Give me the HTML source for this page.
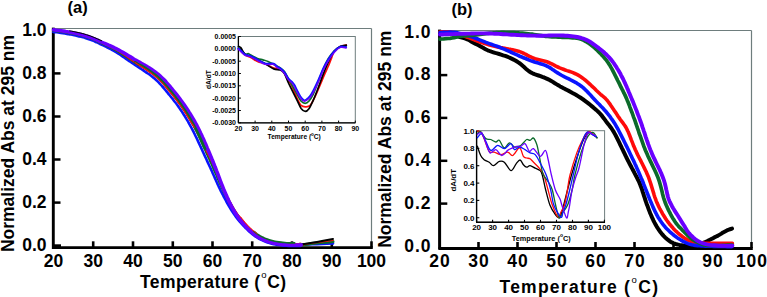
<!DOCTYPE html>
<html><head><meta charset="utf-8"><style>
html,body{margin:0;padding:0;background:#fff;width:767px;height:297px;overflow:hidden}
svg{display:block}
</style></head><body>
<svg width="767" height="297" viewBox="0 0 767 297">
<rect width="767" height="297" fill="#fff"/>
<line x1="53.5" y1="28.5" x2="371.5" y2="28.5" stroke="#6e7d7d" stroke-width="1.2"/>
<line x1="371.5" y1="28.5" x2="371.5" y2="247" stroke="#6e7d7d" stroke-width="1.2"/>
<line x1="53.3" y1="27.6" x2="53.3" y2="249" stroke="#000" stroke-width="2.9"/>
<line x1="52" y1="247.7" x2="372.8" y2="247.7" stroke="#000" stroke-width="2.8"/>
<rect x="54" y="244.3" width="7" height="3" fill="#000"/>
<line x1="93.2" y1="247.5" x2="93.2" y2="241.3" stroke="#000" stroke-width="2.6"/>
<line x1="133.0" y1="247.5" x2="133.0" y2="241.3" stroke="#000" stroke-width="2.6"/>
<line x1="172.8" y1="247.5" x2="172.8" y2="241.3" stroke="#000" stroke-width="2.6"/>
<line x1="212.5" y1="247.5" x2="212.5" y2="241.3" stroke="#000" stroke-width="2.6"/>
<line x1="252.2" y1="247.5" x2="252.2" y2="241.3" stroke="#000" stroke-width="2.6"/>
<line x1="292.0" y1="247.5" x2="292.0" y2="241.3" stroke="#000" stroke-width="2.6"/>
<line x1="331.8" y1="247.5" x2="331.8" y2="241.3" stroke="#000" stroke-width="2.6"/>
<line x1="371.5" y1="247.5" x2="371.5" y2="241.3" stroke="#000" stroke-width="2.6"/>
<line x1="53.5" y1="202.6" x2="60.5" y2="202.6" stroke="#000" stroke-width="2.5"/>
<line x1="53.5" y1="159.5" x2="60.5" y2="159.5" stroke="#000" stroke-width="2.5"/>
<line x1="53.5" y1="116.5" x2="60.5" y2="116.5" stroke="#000" stroke-width="2.5"/>
<line x1="53.5" y1="73.4" x2="60.5" y2="73.4" stroke="#000" stroke-width="2.5"/>
<path d="M53.3,31.9 C53.9,32.0 55.7,32.2 57.0,32.3 C58.3,32.5 59.6,32.7 60.9,32.9 C62.3,33.1 63.6,33.3 65.0,33.5 C66.4,33.7 67.7,34.0 69.1,34.2 C70.5,34.5 71.9,34.7 73.2,35.0 C74.6,35.3 76.0,35.6 77.3,35.9 C78.7,36.2 80.0,36.5 81.3,36.8 C82.6,37.2 84.0,37.5 85.2,37.9 C86.5,38.3 87.8,38.7 89.0,39.2 C90.3,39.6 91.5,40.1 92.7,40.6 C94.0,41.1 95.2,41.7 96.4,42.2 C97.6,42.8 98.8,43.4 100.1,44.0 C101.3,44.5 102.6,45.1 103.8,45.7 C105.0,46.3 106.3,46.9 107.5,47.6 C108.8,48.2 110.0,48.8 111.2,49.4 C112.4,50.1 113.5,50.7 114.7,51.4 C115.8,52.0 116.9,52.7 118.0,53.4 C119.1,54.1 120.1,54.7 121.1,55.4 C122.1,56.1 123.1,56.7 124.1,57.5 C125.1,58.2 126.2,58.9 127.3,59.7 C128.4,60.5 129.5,61.3 130.7,62.0 C131.8,62.8 132.9,63.5 134.0,64.2 C135.1,65.0 136.2,65.7 137.3,66.4 C138.5,67.2 139.7,67.9 140.9,68.7 C142.0,69.5 143.3,70.3 144.4,71.1 C145.6,71.9 146.8,72.7 147.9,73.5 C149.0,74.2 150.1,75.0 151.1,75.8 C152.2,76.6 153.2,77.5 154.2,78.3 C155.2,79.1 156.1,80.0 157.1,80.9 C158.0,81.8 158.9,82.7 159.7,83.6 C160.6,84.5 161.4,85.5 162.3,86.4 C163.1,87.4 164.0,88.4 164.8,89.4 C165.7,90.4 166.5,91.4 167.4,92.4 C168.2,93.5 169.0,94.5 169.9,95.5 C170.7,96.5 171.5,97.6 172.4,98.6 C173.2,99.7 174.0,100.7 174.8,101.8 C175.7,102.9 176.5,104.0 177.3,105.1 C178.1,106.2 178.8,107.3 179.6,108.3 C180.4,109.4 181.1,110.5 181.9,111.6 C182.6,112.7 183.3,113.9 184.0,115.0 C184.8,116.1 185.5,117.3 186.1,118.4 C186.8,119.5 187.5,120.7 188.2,121.8 C188.8,123.0 189.4,124.1 190.1,125.3 C190.7,126.4 191.3,127.6 191.9,128.7 C192.5,129.9 193.1,131.0 193.7,132.2 C194.3,133.4 194.9,134.6 195.5,135.8 C196.1,136.9 196.6,138.1 197.2,139.3 C197.8,140.5 198.3,141.7 198.8,142.9 C199.4,144.1 199.9,145.4 200.5,146.6 C201.0,147.8 201.6,149.0 202.2,150.2 C202.7,151.4 203.3,152.7 203.9,153.9 C204.4,155.1 205.0,156.4 205.6,157.6 C206.1,158.8 206.7,160.1 207.3,161.3 C207.9,162.5 208.4,163.8 209.0,165.0 C209.6,166.2 210.1,167.4 210.7,168.7 C211.3,169.9 211.8,171.1 212.4,172.4 C212.9,173.6 213.5,174.8 214.0,176.0 C214.6,177.3 215.1,178.5 215.7,179.7 C216.2,181.0 216.8,182.2 217.3,183.4 C217.9,184.7 218.5,185.9 219.0,187.2 C219.6,188.4 220.2,189.6 220.8,190.9 C221.4,192.1 222.0,193.3 222.7,194.5 C223.3,195.7 223.9,197.0 224.6,198.2 C225.2,199.4 225.9,200.6 226.5,201.8 C227.2,203.0 227.8,204.2 228.5,205.4 C229.2,206.6 229.9,207.7 230.6,208.9 C231.3,210.0 232.0,211.2 232.8,212.3 C233.6,213.5 234.4,214.6 235.2,215.7 C236.0,216.9 236.9,218.0 237.7,219.1 C238.5,220.1 239.4,221.2 240.2,222.2 C241.1,223.2 242.0,224.2 242.9,225.2 C243.8,226.2 244.8,227.3 245.8,228.2 C246.8,229.2 247.8,230.2 248.9,231.2 C249.9,232.1 251.0,233.0 252.0,233.9 C253.1,234.7 254.2,235.6 255.3,236.3 C256.5,237.1 257.6,237.9 258.8,238.6 C260.0,239.2 261.3,239.9 262.5,240.4 C263.7,241.0 265.0,241.5 266.3,242.0 C267.6,242.5 269.0,242.9 270.3,243.3 C271.6,243.7 273.0,244.0 274.3,244.3 C275.7,244.5 277.1,244.8 278.4,245.0 C279.8,245.2 281.1,245.4 282.4,245.5 C283.8,245.6 285.1,245.7 286.5,245.8 C287.8,245.9 289.2,246.0 290.5,246.0 C291.9,246.0 293.3,246.0 294.7,246.0 C296.0,246.0 297.6,246.0 298.7,246.0 C299.7,245.9 300.8,246.1 301.0,245.9 C301.2,245.7 298.2,245.2 300.0,244.9 C301.8,244.6 308.3,244.5 312.0,244.3 C315.7,244.1 318.5,244.1 322.0,243.9 C325.5,243.8 331.2,243.5 333.0,243.4" fill="none" stroke="#0a14ff" stroke-width="2.6" stroke-linejoin="round" stroke-linecap="round" />
<path d="M53.5,30.4 C54.1,30.5 55.9,30.7 57.2,30.9 C58.5,31.0 59.8,31.2 61.2,31.4 C62.5,31.6 63.9,31.8 65.2,32.0 C66.6,32.3 68.0,32.5 69.4,32.8 C70.8,33.0 72.2,33.3 73.5,33.5 C74.9,33.8 76.3,34.1 77.7,34.4 C79.0,34.7 80.4,35.0 81.7,35.4 C83.0,35.7 84.4,36.1 85.7,36.5 C87.0,36.9 88.3,37.3 89.6,37.8 C90.8,38.2 92.1,38.7 93.3,39.2 C94.5,39.7 95.8,40.3 97.0,40.8 C98.2,41.4 99.5,42.0 100.7,42.5 C102.0,43.1 103.2,43.7 104.5,44.3 C105.7,44.8 107.0,45.4 108.3,46.0 C109.5,46.6 110.8,47.2 112.0,47.9 C113.2,48.5 114.4,49.1 115.6,49.8 C116.7,50.4 117.9,51.1 119.0,51.7 C120.1,52.4 121.2,53.0 122.2,53.7 C123.2,54.4 124.2,55.0 125.3,55.7 C126.3,56.4 127.4,57.1 128.5,57.9 C129.6,58.6 130.8,59.4 131.9,60.1 C133.0,60.9 134.1,61.6 135.2,62.3 C136.3,63.0 137.4,63.7 138.6,64.4 C139.8,65.0 141.2,65.5 142.5,66.2 C143.7,66.8 144.9,67.7 146.1,68.5 C147.3,69.3 148.5,70.1 149.7,70.9 C150.9,71.6 152.0,72.4 153.1,73.3 C154.2,74.1 155.2,74.9 156.3,75.8 C157.3,76.7 158.4,77.6 159.3,78.5 C160.3,79.5 161.2,80.4 162.1,81.4 C163.0,82.3 163.9,83.3 164.8,84.3 C165.6,85.2 166.5,86.3 167.4,87.3 C168.2,88.3 169.1,89.3 169.9,90.3 C170.8,91.4 171.6,92.4 172.4,93.4 C173.3,94.5 174.1,95.5 175.0,96.6 C175.8,97.6 176.6,98.7 177.5,99.8 C178.3,100.9 179.1,102.0 179.9,103.1 C180.7,104.2 181.5,105.3 182.3,106.5 C183.1,107.6 183.9,108.7 184.6,109.8 C185.4,110.9 186.1,112.1 186.8,113.2 C187.6,114.4 188.3,115.5 189.0,116.7 C189.7,117.9 190.3,119.0 191.0,120.2 C191.7,121.3 192.3,122.5 193.0,123.7 C193.6,124.8 194.2,126.0 194.9,127.2 C195.5,128.4 196.1,129.5 196.7,130.7 C197.3,131.9 197.9,133.1 198.5,134.3 C199.0,135.5 199.6,136.8 200.2,138.0 C200.7,139.2 201.3,140.4 201.8,141.6 C202.4,142.8 202.9,144.0 203.4,145.3 C204.0,146.5 204.5,147.7 205.1,148.9 C205.6,150.1 206.2,151.4 206.7,152.6 C207.3,153.8 207.8,155.1 208.4,156.3 C209.0,157.5 209.5,158.8 210.1,160.0 C210.6,161.3 211.2,162.5 211.8,163.7 C212.3,165.0 212.9,166.2 213.4,167.5 C214.0,168.7 214.5,170.0 215.0,171.2 C215.6,172.4 216.1,173.7 216.7,174.9 C217.2,176.2 217.7,177.4 218.2,178.6 C218.8,179.9 219.3,181.1 219.8,182.4 C220.4,183.6 220.9,184.8 221.5,186.1 C222.0,187.3 222.6,188.5 223.2,189.7 C223.7,191.0 224.3,192.2 224.9,193.4 C225.5,194.6 226.1,195.9 226.7,197.1 C227.4,198.3 228.0,199.5 228.6,200.7 C229.2,201.9 229.9,203.1 230.5,204.3 C231.2,205.4 231.8,206.6 232.5,207.7 C233.2,208.9 233.9,210.0 234.6,211.2 C235.3,212.3 236.1,213.5 236.9,214.6 C237.7,215.7 238.5,216.8 239.3,217.9 C240.1,219.0 240.9,220.0 241.7,221.0 C242.5,222.0 243.4,223.0 244.2,224.0 C245.1,225.1 246.1,226.1 247.0,227.1 C248.0,228.1 249.0,229.0 250.0,230.0 C251.0,230.9 252.0,231.8 253.0,232.7 C254.1,233.5 255.1,234.3 256.2,235.1 C257.3,235.9 258.4,236.6 259.6,237.3 C260.7,237.9 261.9,238.5 263.1,239.1 C264.3,239.6 265.6,240.1 266.8,240.6 C268.1,241.1 269.4,241.5 270.7,241.8 C272.0,242.2 273.3,242.5 274.7,242.8 C276.0,243.1 277.3,243.3 278.6,243.5 C280.0,243.7 281.3,243.9 282.6,244.0 C283.9,244.1 285.2,244.2 286.6,244.3 C287.9,244.4 289.2,244.5 290.6,244.5 C291.9,244.5 293.3,244.5 294.7,244.5 C296.0,244.5 297.6,244.5 298.6,244.5 C299.7,244.4 300.5,244.3 301.0,244.4 C301.5,244.5 299.7,245.0 301.5,244.9 C303.3,244.8 308.6,244.0 312.0,243.6 C315.4,243.2 318.5,242.9 322.0,242.6 C325.5,242.3 331.2,241.8 333.0,241.6" fill="none" stroke="#0b6a2a" stroke-width="3.0" stroke-linejoin="round" stroke-linecap="round" />
<path d="M53.5,30.4 C54.1,30.5 55.9,30.7 57.2,30.9 C58.5,31.0 59.8,31.2 61.2,31.4 C62.5,31.6 63.9,31.8 65.2,32.0 C66.6,32.3 68.0,32.5 69.4,32.8 C70.8,33.0 72.2,33.3 73.5,33.5 C74.9,33.8 76.3,34.1 77.7,34.4 C79.0,34.7 80.4,35.0 81.7,35.4 C83.0,35.7 84.4,36.1 85.7,36.5 C87.0,36.9 88.3,37.3 89.6,37.8 C90.8,38.2 92.1,38.7 93.3,39.2 C94.5,39.7 95.8,40.3 97.0,40.8 C98.2,41.4 99.5,42.0 100.7,42.5 C102.0,43.1 103.2,43.7 104.5,44.3 C105.7,44.8 107.0,45.4 108.3,46.0 C109.5,46.6 110.8,47.2 112.0,47.9 C113.2,48.5 114.4,49.1 115.6,49.8 C116.7,50.4 117.9,51.1 119.0,51.7 C120.1,52.4 121.2,53.0 122.2,53.7 C123.2,54.4 124.2,55.0 125.3,55.7 C126.3,56.4 127.3,57.2 128.4,58.0 C129.5,58.7 130.7,59.6 131.8,60.3 C132.9,61.1 133.9,61.8 135.0,62.5 C136.1,63.3 137.2,64.0 138.4,64.7 C139.5,65.5 140.7,66.2 141.9,67.0 C143.1,67.8 144.4,68.5 145.6,69.3 C146.8,70.1 148.0,70.9 149.1,71.7 C150.3,72.5 151.4,73.2 152.5,74.1 C153.6,74.9 154.6,75.7 155.6,76.6 C156.7,77.4 157.7,78.4 158.6,79.3 C159.6,80.2 160.5,81.1 161.4,82.0 C162.3,83.0 163.2,83.9 164.0,84.9 C164.9,85.9 165.7,86.9 166.6,87.9 C167.4,88.9 168.3,90.0 169.1,91.0 C170.0,92.0 170.8,93.0 171.7,94.1 C172.5,95.1 173.3,96.1 174.2,97.2 C175.0,98.3 175.8,99.3 176.7,100.4 C177.5,101.5 178.3,102.6 179.1,103.7 C179.9,104.8 180.7,105.9 181.5,107.0 C182.3,108.1 183.0,109.2 183.8,110.4 C184.5,111.5 185.3,112.6 186.0,113.8 C186.7,114.9 187.4,116.1 188.1,117.2 C188.8,118.4 189.5,119.5 190.2,120.7 C190.9,121.8 191.6,122.9 192.3,124.1 C193.0,125.2 193.6,126.3 194.3,127.5 C194.9,128.6 195.6,129.8 196.2,131.0 C196.9,132.1 197.5,133.3 198.1,134.5 C198.8,135.7 199.4,136.9 200.0,138.1 C200.6,139.3 201.1,140.5 201.7,141.7 C202.3,142.8 202.9,144.0 203.5,145.2 C204.1,146.4 204.6,147.6 205.2,148.8 C205.8,150.0 206.4,151.3 207.0,152.5 C207.6,153.7 208.2,154.9 208.8,156.1 C209.4,157.3 210.0,158.6 210.6,159.8 C211.2,161.0 211.8,162.2 212.4,163.5 C213.0,164.7 213.6,165.9 214.2,167.1 C214.8,168.4 215.4,169.6 215.9,170.8 C216.5,172.0 217.0,173.3 217.6,174.5 C218.1,175.8 218.6,177.0 219.2,178.2 C219.7,179.5 220.2,180.7 220.7,182.0 C221.3,183.2 221.8,184.4 222.4,185.7 C222.9,186.9 223.5,188.1 224.1,189.3 C224.6,190.5 225.2,191.8 225.8,193.0 C226.4,194.2 227.0,195.4 227.6,196.6 C228.3,197.8 228.9,199.1 229.5,200.3 C230.1,201.4 230.8,202.6 231.4,203.8 C232.0,204.9 232.7,206.1 233.4,207.2 C234.0,208.4 234.7,209.5 235.5,210.6 C236.2,211.8 236.9,212.9 237.7,214.0 C238.5,215.1 239.3,216.2 240.1,217.3 C240.9,218.4 241.6,219.4 242.5,220.4 C243.3,221.4 244.1,222.4 245.0,223.4 C245.9,224.4 246.8,225.4 247.7,226.4 C248.7,227.3 249.7,228.3 250.7,229.3 C251.7,230.2 252.6,231.1 253.7,231.9 C254.7,232.7 255.7,233.5 256.8,234.3 C257.8,235.0 259.0,235.7 260.1,236.4 C261.2,237.0 262.4,237.6 263.5,238.2 C264.7,238.7 265.9,239.2 267.2,239.7 C268.4,240.1 269.7,240.5 271.0,240.9 C272.2,241.2 273.6,241.5 274.9,241.8 C276.2,242.1 277.5,242.3 278.8,242.5 C280.1,242.7 281.4,242.9 282.7,243.0 C284.0,243.1 285.3,243.2 286.6,243.3 C287.9,243.4 289.3,243.5 290.6,243.5 C291.9,243.5 293.3,243.5 294.7,243.5 C296.0,243.5 297.6,243.5 298.6,243.5 C299.7,243.4 300.3,243.2 301.0,243.4 C301.6,243.6 300.7,244.9 302.5,244.9 C304.3,244.9 308.8,243.7 312.0,243.2 C315.2,242.7 318.5,242.3 322.0,241.8 C325.5,241.3 331.2,240.6 333.0,240.4" fill="none" stroke="#ff0a0a" stroke-width="1.2" stroke-linejoin="round" stroke-linecap="round" />
<path d="M301.0,244.6 C302.8,244.3 308.5,243.4 312.0,242.8 C315.5,242.2 318.5,241.6 322.0,241.0 C325.5,240.4 331.2,239.3 333.0,239.0" fill="none" stroke="#000000" stroke-width="2.0" stroke-linejoin="round" stroke-linecap="round" />
<path d="M53.6,29.8 C54.2,29.9 56.0,30.1 57.3,30.3 C58.6,30.4 59.9,30.6 61.2,30.8 C62.6,31.0 64.0,31.2 65.3,31.4 C66.7,31.7 68.1,31.9 69.5,32.2 C70.9,32.4 72.3,32.7 73.7,33.0 C75.0,33.2 76.4,33.5 77.8,33.8 C79.2,34.1 80.5,34.5 81.9,34.8 C83.2,35.2 84.5,35.5 85.9,35.9 C87.2,36.3 88.5,36.8 89.8,37.2 C91.0,37.7 92.3,38.2 93.5,38.7 C94.8,39.2 96.0,39.7 97.3,40.2 C98.5,40.8 99.8,41.3 101.0,41.9 C102.3,42.4 103.6,42.9 104.8,43.5 C106.1,44.0 107.4,44.6 108.7,45.2 C110.0,45.7 111.2,46.3 112.5,46.9 C113.7,47.5 115.0,48.1 116.2,48.7 C117.4,49.3 118.5,49.9 119.7,50.5 C120.8,51.1 121.9,51.8 123.0,52.4 C124.1,53.0 125.1,53.6 126.2,54.3 C127.3,55.0 128.4,55.7 129.5,56.3 C130.7,57.0 131.8,57.8 133.0,58.4 C134.1,59.1 135.2,59.8 136.4,60.4 C137.5,61.1 138.6,61.7 139.8,62.4 C141.0,63.1 142.3,63.8 143.5,64.5 C144.7,65.2 146.0,66.0 147.3,66.7 C148.5,67.5 149.8,68.2 151.0,69.0 C152.2,69.8 153.3,70.6 154.5,71.4 C155.6,72.2 156.8,73.1 157.8,74.0 C158.9,74.9 160.0,75.8 161.0,76.8 C162.0,77.7 163.0,78.7 163.9,79.6 C164.9,80.6 165.8,81.6 166.6,82.6 C167.5,83.6 168.4,84.6 169.3,85.7 C170.1,86.7 171.0,87.7 171.8,88.7 C172.7,89.8 173.5,90.8 174.4,91.9 C175.2,92.9 176.1,94.0 176.9,95.0 C177.8,96.1 178.6,97.2 179.5,98.3 C180.3,99.4 181.1,100.5 181.9,101.7 C182.8,102.8 183.6,103.9 184.4,105.0 C185.2,106.1 185.9,107.3 186.7,108.4 C187.5,109.6 188.2,110.7 188.9,111.9 C189.7,113.1 190.4,114.2 191.1,115.4 C191.8,116.6 192.5,117.8 193.2,118.9 C193.9,120.1 194.5,121.3 195.2,122.5 C195.8,123.6 196.4,124.8 197.1,126.0 C197.7,127.2 198.3,128.4 198.9,129.6 C199.5,130.8 200.1,132.0 200.7,133.3 C201.3,134.5 201.9,135.7 202.4,136.9 C203.0,138.2 203.5,139.4 204.1,140.6 C204.6,141.8 205.1,143.0 205.7,144.3 C206.2,145.5 206.7,146.7 207.2,147.9 C207.8,149.2 208.3,150.4 208.8,151.6 C209.4,152.9 209.9,154.1 210.4,155.4 C210.9,156.7 211.5,157.9 212.0,159.2 C212.5,160.4 213.0,161.7 213.5,163.0 C214.0,164.2 214.5,165.5 215.0,166.8 C215.5,168.0 216.0,169.3 216.5,170.6 C217.0,171.8 217.5,173.1 218.0,174.4 C218.4,175.6 218.9,176.9 219.4,178.1 C219.9,179.4 220.3,180.7 220.8,181.9 C221.3,183.2 221.8,184.4 222.3,185.7 C222.8,187.0 223.3,188.2 223.8,189.5 C224.3,190.7 224.8,191.9 225.4,193.2 C225.9,194.4 226.5,195.7 227.0,196.9 C227.6,198.2 228.2,199.4 228.7,200.7 C229.3,201.9 229.9,203.1 230.5,204.3 C231.1,205.5 231.7,206.7 232.3,207.8 C233.0,209.0 233.6,210.2 234.3,211.3 C235.0,212.5 235.8,213.7 236.5,214.8 C237.3,216.0 238.1,217.1 238.9,218.2 C239.7,219.3 240.5,220.3 241.3,221.3 C242.1,222.4 243.0,223.4 243.9,224.4 C244.8,225.4 245.7,226.4 246.7,227.4 C247.6,228.4 248.6,229.4 249.6,230.3 C250.6,231.3 251.7,232.2 252.7,233.1 C253.7,233.9 254.8,234.7 255.9,235.5 C257.0,236.3 258.2,237.0 259.3,237.7 C260.5,238.4 261.7,239.0 262.9,239.5 C264.1,240.1 265.4,240.6 266.7,241.1 C267.9,241.5 269.2,241.9 270.6,242.3 C271.9,242.7 273.2,243.0 274.5,243.3 C275.9,243.6 277.2,243.8 278.6,244.0 C279.9,244.2 281.2,244.4 282.5,244.5 C283.9,244.6 285.2,244.7 286.5,244.8 C287.9,244.9 289.2,245.0 290.6,245.0 C291.9,245.0 293.3,245.0 294.7,245.0 C296.0,245.0 297.6,245.0 298.7,245.0 C299.7,244.9 300.6,244.9 301.0,244.9 C301.4,244.9 301.0,244.9 301.0,244.9" fill="none" stroke="#6a00ff" stroke-width="3.6" stroke-linejoin="round" stroke-linecap="round" />
<path d="M135.2,62.3 C135.8,62.6 137.4,63.7 138.6,64.4 C139.8,65.0 141.2,65.5 142.5,66.2 C143.7,66.8 144.9,67.7 146.1,68.5 C147.3,69.3 148.5,70.1 149.7,70.9 C150.9,71.6 152.0,72.4 153.1,73.3 C154.2,74.1 155.2,74.9 156.3,75.8 C157.3,76.7 158.4,77.6 159.3,78.5 C160.3,79.5 161.2,80.4 162.1,81.4 C163.0,82.3 163.9,83.3 164.8,84.3 C165.6,85.2 166.5,86.3 167.4,87.3 C168.2,88.3 169.1,89.3 169.9,90.3 C170.8,91.4 171.6,92.4 172.4,93.4 C173.3,94.5 174.1,95.5 175.0,96.6 C175.8,97.6 176.6,98.7 177.5,99.8 C178.3,100.9 179.1,102.0 179.9,103.1 C180.7,104.2 181.5,105.3 182.3,106.5 C183.1,107.6 183.9,108.7 184.6,109.8 C185.4,110.9 186.1,112.1 186.8,113.2 C187.6,114.4 188.3,115.5 189.0,116.7 C189.7,117.9 190.3,119.0 191.0,120.2 C191.7,121.3 192.3,122.5 193.0,123.7 C193.6,124.8 194.2,126.0 194.9,127.2 C195.5,128.4 196.1,129.5 196.7,130.7 C197.3,131.9 197.9,133.1 198.5,134.3 C199.0,135.5 199.6,136.8 200.2,138.0 C200.7,139.2 201.3,140.4 201.8,141.6 C202.4,142.8 202.9,144.0 203.4,145.3 C204.0,146.5 204.8,148.3 205.1,148.9" fill="none" stroke="#0b6a2a" stroke-width="2.6" stroke-linejoin="round" stroke-linecap="round" />
<path d="M135.0,62.5 C135.6,62.9 137.2,64.0 138.4,64.7 C139.5,65.5 140.7,66.2 141.9,67.0 C143.1,67.8 144.4,68.5 145.6,69.3 C146.8,70.1 148.0,70.9 149.1,71.7 C150.3,72.5 151.4,73.2 152.5,74.1 C153.6,74.9 154.6,75.7 155.6,76.6 C156.7,77.4 157.7,78.4 158.6,79.3 C159.6,80.2 160.5,81.1 161.4,82.0 C162.3,83.0 163.2,83.9 164.0,84.9 C164.9,85.9 165.7,86.9 166.6,87.9 C167.4,88.9 168.3,90.0 169.1,91.0 C170.0,92.0 170.8,93.0 171.7,94.1 C172.5,95.1 173.3,96.1 174.2,97.2 C175.0,98.3 175.8,99.3 176.7,100.4 C177.5,101.5 178.3,102.6 179.1,103.7 C179.9,104.8 180.7,105.9 181.5,107.0 C182.3,108.1 183.0,109.2 183.8,110.4 C184.5,111.5 185.3,112.6 186.0,113.8 C186.7,114.9 187.4,116.1 188.1,117.2 C188.8,118.4 189.5,119.5 190.2,120.7 C190.9,121.8 191.6,122.9 192.3,124.1 C193.0,125.2 193.9,126.9 194.3,127.5" fill="none" stroke="#ff0a0a" stroke-width="1.1" stroke-linejoin="round" stroke-linecap="round" />
<path d="M69.7,30.8 C70.4,30.9 72.5,31.3 73.9,31.6 C75.3,31.9 76.7,32.2 78.1,32.5 C79.5,32.8 80.8,33.1 82.2,33.4 C83.6,33.8 84.9,34.2 86.3,34.6 C87.6,35.0 88.9,35.4 90.2,35.9 C91.5,36.4 92.8,36.9 94.1,37.4 C95.3,37.9 96.6,38.4 97.8,39.0 C99.1,39.6 100.9,40.4 101.6,40.7" fill="none" stroke="#000000" stroke-width="1.0" stroke-linejoin="round" stroke-linecap="round" />
<path d="M254.0,231.4 C254.6,231.8 256.1,233.0 257.1,233.8 C258.2,234.5 259.3,235.2 260.4,235.9 C261.5,236.5 262.6,237.1 263.8,237.6 C265.0,238.2 266.2,238.7 267.4,239.1 C268.6,239.5 269.9,239.9 271.1,240.3 C272.4,240.7 273.7,241.0 275.0,241.2 C276.3,241.5 277.6,241.7 278.9,241.9 C280.2,242.1 281.5,242.3 282.8,242.4 C284.1,242.5 285.4,242.6 286.7,242.7 C288.0,242.8 289.3,242.9 290.6,242.9 C292.0,242.9 294.0,242.9 294.7,242.9" fill="none" stroke="#0b6a2a" stroke-width="1.6" stroke-linejoin="round" stroke-linecap="round" />
<path d="M240.7,216.8 C241.1,217.3 242.3,218.9 243.1,219.9 C243.9,220.9 244.7,221.9 245.6,222.9 C246.5,223.8 247.4,224.8 248.3,225.8 C249.3,226.8 250.2,227.8 251.2,228.7 C252.2,229.6 253.2,230.4 254.2,231.3 C255.2,232.1 256.7,233.2 257.2,233.6" fill="none" stroke="#ff0a0a" stroke-width="0.9" stroke-linejoin="round" stroke-linecap="round" />
<g font-family="Liberation Sans" font-weight="bold" font-size="17.5" fill="#000">
<text x="53.5" y="267" text-anchor="middle">20</text>
<text x="93.2" y="267" text-anchor="middle">30</text>
<text x="133.0" y="267" text-anchor="middle">40</text>
<text x="172.8" y="267" text-anchor="middle">50</text>
<text x="212.5" y="267" text-anchor="middle">60</text>
<text x="252.2" y="267" text-anchor="middle">70</text>
<text x="292.0" y="267" text-anchor="middle">80</text>
<text x="331.8" y="267" text-anchor="middle">90</text>
<text x="371.5" y="267" text-anchor="middle">100</text>
<text x="46.5" y="251.0" text-anchor="end">0.0</text>
<text x="46.5" y="207.9" text-anchor="end">0.2</text>
<text x="46.5" y="164.8" text-anchor="end">0.4</text>
<text x="46.5" y="121.8" text-anchor="end">0.6</text>
<text x="46.5" y="78.7" text-anchor="end">0.8</text>
<text x="46.5" y="35.6" text-anchor="end">1.0</text>
<text x="140" y="288.3" letter-spacing="0.4">Temperature (<tspan font-size="9.5" font-weight="normal" dy="-10" dx="0.6">o</tspan><tspan dy="10" dx="0.4">C)</tspan></text>
<text transform="translate(13.8,143.5) rotate(-90)" text-anchor="middle" font-size="17.5">Normalized Abs at 295 nm</text>
<text x="67.5" y="12.6" font-size="16.5">(a)</text>
</g>
<rect x="238.4" y="36.5" width="116.9" height="86.3" fill="none" stroke="#6e7d7d" stroke-width="1"/>
<line x1="238.4" y1="36.5" x2="238.4" y2="122.8" stroke="#000" stroke-width="1.3"/>
<line x1="238.4" y1="122.8" x2="355.3" y2="122.8" stroke="#000" stroke-width="1.3"/>
<g font-family="Liberation Sans" font-weight="bold" font-size="7" fill="#000">
<line x1="238.4" y1="36.5" x2="240.9" y2="36.5" stroke="#000" stroke-width="1"/>
<text x="236" y="39.0" text-anchor="end">0.0005</text>
<line x1="238.4" y1="48.8" x2="240.9" y2="48.8" stroke="#000" stroke-width="1"/>
<text x="236" y="51.3" text-anchor="end">0.0000</text>
<line x1="238.4" y1="61.2" x2="240.9" y2="61.2" stroke="#000" stroke-width="1"/>
<text x="236" y="63.7" text-anchor="end">-0.0005</text>
<line x1="238.4" y1="73.5" x2="240.9" y2="73.5" stroke="#000" stroke-width="1"/>
<text x="236" y="76.0" text-anchor="end">-0.0010</text>
<line x1="238.4" y1="85.8" x2="240.9" y2="85.8" stroke="#000" stroke-width="1"/>
<text x="236" y="88.3" text-anchor="end">-0.0015</text>
<line x1="238.4" y1="98.1" x2="240.9" y2="98.1" stroke="#000" stroke-width="1"/>
<text x="236" y="100.6" text-anchor="end">-0.0020</text>
<line x1="238.4" y1="110.5" x2="240.9" y2="110.5" stroke="#000" stroke-width="1"/>
<text x="236" y="113.0" text-anchor="end">-0.0025</text>
<line x1="238.4" y1="122.8" x2="240.9" y2="122.8" stroke="#000" stroke-width="1"/>
<text x="236" y="125.3" text-anchor="end">-0.0030</text>
<line x1="238.4" y1="122.8" x2="238.4" y2="120.6" stroke="#000" stroke-width="1"/>
<text x="238.4" y="130.8" text-anchor="middle">20</text>
<line x1="255.1" y1="122.8" x2="255.1" y2="120.6" stroke="#000" stroke-width="1"/>
<text x="255.1" y="130.8" text-anchor="middle">30</text>
<line x1="271.8" y1="122.8" x2="271.8" y2="120.6" stroke="#000" stroke-width="1"/>
<text x="271.8" y="130.8" text-anchor="middle">40</text>
<line x1="288.5" y1="122.8" x2="288.5" y2="120.6" stroke="#000" stroke-width="1"/>
<text x="288.5" y="130.8" text-anchor="middle">50</text>
<line x1="305.2" y1="122.8" x2="305.2" y2="120.6" stroke="#000" stroke-width="1"/>
<text x="305.2" y="130.8" text-anchor="middle">60</text>
<line x1="321.9" y1="122.8" x2="321.9" y2="120.6" stroke="#000" stroke-width="1"/>
<text x="321.9" y="130.8" text-anchor="middle">70</text>
<line x1="338.6" y1="122.8" x2="338.6" y2="120.6" stroke="#000" stroke-width="1"/>
<text x="338.6" y="130.8" text-anchor="middle">80</text>
<line x1="355.3" y1="122.8" x2="355.3" y2="120.6" stroke="#000" stroke-width="1"/>
<text x="355.3" y="130.8" text-anchor="middle">90</text>
<text x="294.2" y="138.6" text-anchor="middle" font-size="6.6">Temperature (<tspan font-size="4.5" dy="-3">o</tspan><tspan dy="3">C)</tspan></text>
<text transform="translate(210.6,79.6) rotate(-90)" text-anchor="middle" font-size="6.6">dA/dT</text>
</g>
<path d="M238.5,48.5 C239.0,48.9 240.2,49.9 241.4,51.0 C242.6,52.1 243.8,53.9 245.4,55.0 C247.0,56.1 248.8,56.4 250.8,57.5 C252.8,58.6 255.0,60.4 257.5,61.5 C260.0,62.6 262.9,62.9 265.6,64.0 C268.3,65.1 271.2,67.2 273.7,68.0 C276.2,68.8 278.6,68.2 280.4,69.0 C282.2,69.8 283.0,71.1 284.4,73.0 C285.8,74.9 287.2,78.2 288.5,80.5 C289.8,82.8 290.6,83.5 292.0,86.5 C293.4,89.5 295.6,95.1 297.1,98.3 C298.6,101.5 299.8,104.0 301.1,105.4 C302.5,106.8 303.7,106.8 305.2,106.8 C306.7,106.8 308.5,107.2 310.2,105.4 C311.9,103.7 313.3,100.2 315.2,96.3 C317.1,92.4 319.7,86.0 321.3,82.2 C322.9,78.4 323.8,76.2 325.0,73.5 C326.2,70.8 327.4,68.3 328.4,66.0 C329.4,63.7 330.0,61.9 331.0,59.5 C332.0,57.1 332.6,53.7 334.2,51.5 C335.8,49.3 338.3,47.6 340.3,46.5 C342.3,45.4 345.3,45.3 346.3,45.1" fill="none" stroke="#ff0a0a" stroke-width="1.7" stroke-linejoin="round" stroke-linecap="round" />
<path d="M238.5,48.0 C239.0,48.4 240.2,49.4 241.4,50.5 C242.6,51.6 244.3,54.0 245.4,54.5 C246.5,55.0 247.2,53.4 248.1,53.5 C249.0,53.6 249.2,54.2 250.8,55.0 C252.4,55.8 255.5,57.7 257.5,58.5 C259.5,59.3 261.1,59.4 262.9,59.9 C264.6,60.4 266.2,60.7 268.0,61.5 C269.8,62.3 271.6,63.4 273.7,64.5 C275.8,65.6 278.6,66.8 280.4,68.0 C282.2,69.2 283.0,69.7 284.4,71.5 C285.8,73.3 287.2,76.8 288.5,79.0 C289.8,81.2 290.6,82.5 292.0,85.0 C293.4,87.5 295.6,91.6 297.1,94.3 C298.6,97.0 299.6,99.5 301.0,101.0 C302.4,102.5 303.9,103.3 305.2,103.3 C306.5,103.3 307.7,102.5 309.0,101.0 C310.3,99.5 311.8,97.1 313.2,94.3 C314.6,91.5 315.6,88.2 317.3,84.0 C319.0,79.8 321.5,73.2 323.3,69.0 C325.1,64.8 326.6,61.5 328.4,58.5 C330.2,55.5 332.2,53.1 334.2,51.1 C336.2,49.1 338.3,47.6 340.3,46.8 C342.3,45.9 345.3,46.1 346.3,46.0" fill="none" stroke="#0b6a2a" stroke-width="1.7" stroke-linejoin="round" stroke-linecap="round" />
<path d="M238.5,46.3 C238.9,46.5 240.1,46.7 240.8,47.6 C241.6,48.5 242.2,50.4 243.0,51.5 C243.8,52.6 244.1,53.7 245.4,54.5 C246.7,55.3 248.8,55.6 250.8,56.5 C252.8,57.4 255.0,58.8 257.5,60.0 C260.0,61.2 262.9,62.5 265.6,64.0 C268.3,65.5 271.2,67.9 273.7,68.9 C276.2,69.9 278.6,69.2 280.4,70.0 C282.2,70.8 283.1,71.5 284.4,73.5 C285.7,75.5 286.9,79.5 288.0,82.0 C289.1,84.5 289.5,85.2 291.0,88.2 C292.5,91.2 295.4,96.9 297.1,100.3 C298.8,103.7 299.8,106.6 301.1,108.4 C302.5,110.2 303.9,111.4 305.2,111.4 C306.5,111.4 307.9,110.2 309.2,108.4 C310.5,106.6 311.8,103.3 313.2,100.3 C314.6,97.3 315.6,94.6 317.3,90.2 C319.0,85.8 321.5,78.8 323.3,74.1 C325.1,69.4 327.1,64.9 328.4,62.0 C329.7,59.1 330.0,58.3 331.0,56.5 C332.0,54.7 332.6,53.0 334.2,51.3 C335.8,49.6 338.3,47.5 340.3,46.5 C342.3,45.5 345.3,45.3 346.3,45.1" fill="none" stroke="#000000" stroke-width="1.7" stroke-linejoin="round" stroke-linecap="round" />
<path d="M238.5,48.3 C239.0,48.8 240.2,50.0 241.4,51.0 C242.6,52.0 243.8,53.7 245.4,54.5 C247.0,55.3 248.8,55.2 250.8,56.0 C252.8,56.8 255.0,58.2 257.5,59.5 C260.0,60.8 262.9,62.8 265.6,63.5 C268.3,64.2 271.8,63.0 273.7,63.5 C275.6,64.0 275.9,65.7 277.0,66.5 C278.1,67.3 279.2,67.4 280.4,68.3 C281.6,69.2 283.0,70.3 284.4,72.0 C285.8,73.7 287.2,76.9 288.5,78.5 C289.8,80.1 291.1,80.7 292.1,81.8 C293.1,82.9 293.7,83.6 294.5,85.0 C295.3,86.4 296.1,88.3 297.1,90.2 C298.1,92.1 299.3,94.8 300.5,96.5 C301.7,98.2 303.0,100.0 304.2,100.3 C305.4,100.6 306.3,99.5 307.5,98.5 C308.7,97.5 309.6,97.0 311.2,94.3 C312.8,91.6 315.3,86.6 317.3,82.2 C319.3,77.8 321.5,72.0 323.3,68.1 C325.1,64.2 326.6,61.8 328.4,59.0 C330.2,56.2 332.2,53.2 334.2,51.1 C336.2,49.0 338.3,47.2 340.3,46.5 C342.3,45.8 345.3,47.0 346.3,47.1" fill="none" stroke="#0a14ff" stroke-width="1.7" stroke-linejoin="round" stroke-linecap="round" />
<path d="M237.9,49.0 C238.4,49.4 239.6,50.6 240.8,51.7 C242.0,52.7 243.4,54.4 245.0,55.3 C246.6,56.2 248.4,56.0 250.5,56.8 C252.5,57.7 254.6,59.0 257.1,60.3 C259.6,61.6 262.7,63.7 265.4,64.4 C268.1,65.1 271.6,63.9 273.5,64.4 C275.3,64.8 275.4,66.5 276.5,67.2 C277.5,68.0 278.7,68.1 279.9,69.0 C281.1,69.9 282.4,70.9 283.7,72.6 C285.0,74.2 286.5,77.4 287.8,79.1 C289.1,80.7 290.4,81.3 291.4,82.4 C292.4,83.5 292.9,84.1 293.7,85.5 C294.5,86.8 295.3,88.7 296.3,90.6 C297.3,92.5 298.5,95.3 299.8,97.0 C301.0,98.8 302.6,100.8 304.0,101.2 C305.3,101.5 306.7,100.3 308.1,99.2 C309.4,98.1 310.3,97.5 312.0,94.8 C313.6,92.0 316.1,87.0 318.1,82.6 C320.1,78.2 322.3,72.3 324.1,68.5 C326.0,64.6 327.4,62.3 329.2,59.5 C330.9,56.7 332.9,53.7 334.9,51.7 C336.8,49.7 338.7,48.0 340.6,47.4 C342.5,46.7 345.3,47.9 346.2,48.0" fill="none" stroke="#6a00ff" stroke-width="1.4" stroke-linejoin="round" stroke-linecap="round" />
<line x1="439.5" y1="30.5" x2="751.5" y2="30.5" stroke="#6e7d7d" stroke-width="1.2"/>
<line x1="751.5" y1="30.5" x2="751.5" y2="247" stroke="#6e7d7d" stroke-width="1.2"/>
<line x1="439.6" y1="29.6" x2="439.6" y2="249.4" stroke="#000" stroke-width="3"/>
<line x1="438.5" y1="248.5" x2="752.8" y2="248.5" stroke="#000" stroke-width="2.8"/>
<line x1="478.5" y1="248" x2="478.5" y2="242" stroke="#000" stroke-width="2.6"/>
<line x1="517.5" y1="248" x2="517.5" y2="242" stroke="#000" stroke-width="2.6"/>
<line x1="556.5" y1="248" x2="556.5" y2="242" stroke="#000" stroke-width="2.6"/>
<line x1="595.5" y1="248" x2="595.5" y2="242" stroke="#000" stroke-width="2.6"/>
<line x1="634.5" y1="248" x2="634.5" y2="242" stroke="#000" stroke-width="2.6"/>
<line x1="673.5" y1="248" x2="673.5" y2="242" stroke="#000" stroke-width="2.6"/>
<line x1="712.5" y1="248" x2="712.5" y2="242" stroke="#000" stroke-width="2.6"/>
<line x1="751.5" y1="248" x2="751.5" y2="242" stroke="#000" stroke-width="2.6"/>
<line x1="439.8" y1="203.6" x2="447.3" y2="203.6" stroke="#000" stroke-width="2.5"/>
<line x1="439.8" y1="160.8" x2="447.3" y2="160.8" stroke="#000" stroke-width="2.5"/>
<line x1="439.8" y1="117.9" x2="447.3" y2="117.9" stroke="#000" stroke-width="2.5"/>
<line x1="439.8" y1="75.1" x2="447.3" y2="75.1" stroke="#000" stroke-width="2.5"/>
<path d="M440.0,33.0 L441.7,33.1 L443.6,33.2 L445.8,33.4 L448.0,33.7 L450.1,34.0 L452.2,34.4 L454.2,35.0 L456.1,35.6 L458.1,36.3 L460.0,37.0 L462.0,37.6 L464.0,38.2 L466.1,38.8 L468.0,39.6 L469.8,40.6 L471.6,41.7 L473.4,42.7 L475.2,43.6 L477.0,44.5 L478.9,45.4 L480.7,46.4 L482.5,47.4 L484.2,48.5 L486.0,49.5 L487.7,50.3 L489.5,51.0 L491.4,51.7 L493.3,52.3 L495.2,52.9 L497.1,53.4 L499.1,54.0 L501.1,54.6 L503.2,55.3 L505.2,55.9 L507.2,56.7 L509.2,57.5 L511.1,58.4 L513.1,59.4 L514.9,60.3 L516.6,61.3 L518.3,62.4 L520.0,63.5 L521.5,64.8 L522.9,66.0 L524.4,67.3 L525.8,68.7 L527.4,70.0 L529.0,71.3 L530.7,72.4 L532.6,73.3 L534.5,74.1 L536.5,74.8 L538.5,75.5 L540.5,76.2 L542.3,76.9 L544.2,77.5 L546.0,78.3 L547.8,79.1 L549.6,80.0 L551.2,80.9 L552.8,81.9 L554.5,83.0 L556.3,84.1 L558.3,85.3 L560.1,86.4 L561.8,87.3 L563.5,88.2 L565.2,89.1 L567.0,90.0 L568.8,90.9 L570.7,91.9 L572.5,92.9 L574.4,93.9 L576.2,95.0 L578.0,96.1 L579.8,97.2 L581.5,98.3 L583.2,99.5 L585.0,100.8 L586.7,102.1 L588.4,103.4 L590.1,104.8 L591.7,106.1 L593.3,107.4 L594.8,108.7 L596.2,109.9 L597.5,111.1 L599.0,112.5 L600.5,114.1 L601.7,115.5 L602.8,117.0 L603.9,118.4 L605.0,119.9 L606.1,121.4 L607.3,122.9 L608.5,124.4 L609.7,126.0 L611.0,127.7 L612.2,129.5 L613.4,131.3 L614.4,133.1 L615.4,134.9 L616.3,136.7 L617.3,138.7 L618.3,140.7 L619.3,142.7 L620.2,144.6 L621.1,146.4 L621.9,148.1 L622.8,149.9 L623.7,151.8 L624.6,153.6 L625.4,155.3 L626.2,157.0 L627.1,158.8 L627.9,160.5 L628.9,162.3 L629.8,164.1 L630.8,166.0 L631.8,167.9 L632.8,169.7 L633.8,171.6 L634.7,173.4 L635.6,175.1 L636.5,176.8 L637.4,178.5 L638.3,180.3 L639.2,182.2 L640.0,184.1 L640.7,186.0 L641.4,187.9 L642.1,189.8 L642.7,191.9 L643.4,193.9 L644.0,195.9 L644.7,197.9 L645.3,199.8 L645.9,201.7 L646.6,203.7 L647.4,205.7 L648.1,207.7 L648.8,209.6 L649.5,211.4 L650.2,213.2 L651.0,215.0 L651.8,216.9 L652.7,218.8 L653.5,220.6 L654.4,222.4 L655.4,224.2 L656.4,226.0 L657.4,227.7 L658.6,229.5 L659.8,231.2 L661.0,232.8 L662.3,234.4 L663.6,235.9 L665.1,237.4 L666.7,238.8 L668.4,240.1 L670.0,241.4 L671.8,242.4 L673.6,243.3 L675.5,244.0 L677.4,244.5 L679.4,244.9 L681.3,245.2 L683.3,245.5 L685.3,245.7 L687.3,245.8 L689.4,245.8 L691.4,245.6 L693.3,245.4 L695.3,245.1 L697.3,244.7 L699.3,244.2 L701.3,243.6 L703.2,242.9 L705.1,242.1 L707.1,241.2 L708.9,240.2 L710.8,239.3 L712.5,238.4 L714.3,237.4 L716.2,236.5 L718.0,235.6 L719.7,234.6 L721.4,233.6 L723.1,232.4 L725.0,231.4 L726.9,230.4 L728.9,229.7 L730.8,229.0 L732.0,228.6" fill="none" stroke="#000000" stroke-width="4.0" stroke-linejoin="round" stroke-linecap="round"/>
<path d="M440.0,32.1 L441.8,31.9 L443.7,31.8 L445.8,31.7 L447.9,31.8 L449.9,32.0 L452.0,32.3 L454.0,32.8 L455.9,33.3 L457.9,33.8 L459.8,34.4 L461.7,35.1 L463.6,35.7 L465.5,36.5 L467.4,37.2 L469.3,37.9 L471.1,38.6 L473.0,39.4 L474.9,40.1 L476.8,40.8 L478.7,41.5 L480.7,42.2 L482.6,42.9 L484.6,43.5 L486.6,44.1 L488.6,44.7 L490.6,45.3 L492.6,45.8 L494.6,46.3 L496.6,46.7 L498.6,47.2 L500.6,47.6 L502.6,47.9 L504.6,48.3 L506.6,48.7 L508.6,49.1 L510.6,49.4 L512.6,49.8 L514.5,50.2 L516.5,50.7 L518.4,51.2 L520.3,51.9 L522.2,52.7 L524.0,53.5 L525.8,54.4 L527.6,55.4 L529.4,56.3 L531.3,57.2 L533.1,58.0 L535.1,58.7 L537.0,59.2 L539.0,59.7 L541.0,60.2 L543.0,60.7 L545.0,61.2 L546.9,61.8 L548.7,62.5 L550.5,63.3 L552.3,64.2 L554.1,65.1 L555.9,66.1 L557.8,67.0 L559.7,67.9 L561.6,68.6 L563.4,69.3 L565.2,70.0 L567.0,70.6 L569.0,71.2 L570.9,71.9 L572.9,72.7 L574.8,73.5 L576.8,74.4 L578.6,75.4 L580.4,76.5 L582.1,77.7 L583.7,78.9 L585.4,80.2 L587.0,81.6 L588.7,83.1 L590.3,84.6 L591.9,86.2 L593.5,87.6 L595.0,89.1 L596.4,90.5 L597.8,91.8 L599.1,93.0 L600.5,94.3 L602.0,95.5 L603.4,96.7 L604.8,97.8 L606.0,99.1 L607.3,100.5 L608.4,102.0 L609.6,103.6 L610.7,105.3 L611.9,107.0 L613.2,108.9 L614.4,110.8 L615.7,112.6 L616.9,114.4 L618.0,116.2 L619.2,117.9 L620.3,119.5 L621.5,121.1 L622.7,122.7 L623.8,124.2 L624.9,125.7 L625.9,127.3 L626.8,129.0 L627.6,130.7 L628.4,132.3 L629.1,134.1 L629.8,135.8 L630.5,137.7 L631.2,139.7 L632.0,141.7 L632.8,143.7 L633.6,145.8 L634.5,147.8 L635.3,149.7 L636.2,151.6 L637.0,153.4 L637.9,155.2 L638.8,157.0 L639.7,158.8 L640.7,160.7 L641.6,162.5 L642.6,164.4 L643.5,166.3 L644.4,168.1 L645.3,170.0 L646.2,171.8 L647.0,173.7 L647.8,175.5 L648.6,177.4 L649.3,179.4 L650.0,181.5 L650.7,183.5 L651.3,185.5 L651.9,187.6 L652.5,189.6 L653.1,191.5 L653.7,193.4 L654.2,195.3 L654.8,197.1 L655.5,198.9 L656.2,200.8 L657.0,202.8 L657.9,204.8 L658.8,206.7 L659.7,208.5 L660.6,210.2 L661.6,211.9 L662.5,213.6 L663.5,215.3 L664.6,217.0 L665.7,218.8 L666.9,220.5 L668.1,222.1 L669.3,223.7 L670.6,225.2 L671.9,226.8 L673.3,228.4 L674.7,229.9 L676.2,231.4 L677.7,232.8 L679.3,234.2 L681.0,235.5 L682.6,236.8 L684.3,238.0 L686.1,239.1 L687.8,240.0 L689.7,240.8 L691.5,241.5 L693.3,242.0 L695.2,242.4 L697.1,242.7 L699.1,242.9 L701.1,243.0 L703.0,243.1 L705.0,243.2 L707.0,243.2 L709.1,243.2 L711.2,243.3 L713.4,243.3 L715.5,243.3 L717.7,243.3 L720.0,243.3 L722.3,243.3 L724.5,243.3 L726.7,243.2 L728.7,243.2 L730.4,243.2 L732.0,243.2 L732.4,243.2" fill="none" stroke="#ff0a0a" stroke-width="3.6" stroke-linejoin="round" stroke-linecap="round"/>
<path d="M440.0,32.6 L441.7,32.5 L443.5,32.4 L445.6,32.3 L447.8,32.2 L450.0,32.1 L452.2,32.2 L454.2,32.4 L456.3,32.6 L458.2,33.0 L460.1,33.4 L462.0,33.9 L464.0,34.5 L465.9,35.0 L467.8,35.6 L469.8,36.2 L471.8,36.9 L473.8,37.6 L475.7,38.3 L477.6,39.0 L479.6,39.8 L481.5,40.6 L483.5,41.4 L485.4,42.2 L487.4,42.9 L489.3,43.6 L491.2,44.3 L493.2,45.0 L495.1,45.6 L497.0,46.3 L499.0,47.0 L500.9,47.8 L502.8,48.6 L504.8,49.4 L506.8,50.3 L508.7,51.1 L510.5,52.0 L512.3,52.8 L514.1,53.6 L515.8,54.4 L517.6,55.2 L519.3,56.0 L521.1,56.7 L522.9,57.5 L524.7,58.2 L526.6,59.0 L528.6,59.8 L530.5,60.6 L532.5,61.3 L534.5,62.0 L536.4,62.6 L538.3,63.1 L540.3,63.7 L542.2,64.3 L544.1,64.9 L545.9,65.7 L547.7,66.5 L549.4,67.4 L551.0,68.4 L552.5,69.5 L554.2,70.6 L555.8,71.8 L557.6,72.9 L559.4,74.0 L561.1,75.0 L562.9,76.0 L564.6,76.9 L566.5,77.8 L568.3,78.7 L570.2,79.7 L572.1,80.6 L574.0,81.6 L575.9,82.6 L577.6,83.7 L579.3,84.8 L581.0,86.0 L582.5,87.2 L584.1,88.5 L585.5,89.9 L586.9,91.2 L588.3,92.7 L589.6,94.1 L591.0,95.6 L592.4,97.2 L593.8,98.7 L595.2,100.2 L596.5,101.6 L597.8,103.0 L599.2,104.3 L600.5,105.7 L601.8,107.1 L603.2,108.5 L604.5,110.0 L605.9,111.5 L607.2,113.1 L608.6,114.8 L609.9,116.4 L611.1,118.2 L612.3,119.9 L613.4,121.5 L614.5,123.2 L615.5,124.9 L616.5,126.6 L617.5,128.4 L618.5,130.2 L619.4,132.0 L620.4,133.9 L621.4,135.8 L622.3,137.7 L623.3,139.6 L624.2,141.5 L625.1,143.3 L626.0,145.1 L626.9,146.9 L627.8,148.8 L628.7,150.6 L629.6,152.5 L630.5,154.4 L631.4,156.3 L632.3,158.2 L633.2,160.1 L634.1,161.9 L634.9,163.8 L635.8,165.6 L636.6,167.4 L637.4,169.2 L638.2,171.0 L639.0,172.8 L639.7,174.6 L640.5,176.4 L641.3,178.3 L642.2,180.3 L643.0,182.2 L643.7,184.2 L644.5,186.2 L645.3,188.1 L646.0,190.0 L646.8,191.9 L647.5,193.7 L648.2,195.5 L648.9,197.2 L649.6,199.0 L650.4,200.9 L651.2,202.8 L652.1,204.9 L652.9,206.8 L653.7,208.7 L654.6,210.4 L655.4,212.2 L656.3,213.9 L657.2,215.6 L658.2,217.4 L659.3,219.1 L660.4,220.8 L661.6,222.5 L662.8,224.1 L664.0,225.6 L665.3,227.2 L666.7,228.7 L668.1,230.1 L669.6,231.6 L671.1,232.9 L672.6,234.2 L674.2,235.5 L675.9,236.7 L677.5,237.9 L679.2,239.0 L680.9,240.1 L682.7,241.1 L684.4,242.0 L686.2,242.8 L688.0,243.6 L689.9,244.2 L691.7,244.7 L693.7,245.1 L695.6,245.4 L697.5,245.6 L699.4,245.8 L701.3,245.9 L703.3,246.0 L705.4,246.1 L707.5,246.2 L709.7,246.3 L711.8,246.3 L713.9,246.4 L716.1,246.4 L718.4,246.5 L720.7,246.5 L722.9,246.5 L725.1,246.5 L727.1,246.6 L728.9,246.6 L730.5,246.6 L732.0,246.6 L732.0,246.6" fill="none" stroke="#0a14ff" stroke-width="3.6" stroke-linejoin="round" stroke-linecap="round"/>
<path d="M440.0,39.1 L441.8,39.0 L443.7,38.9 L445.8,38.7 L447.9,38.5 L450.1,38.3 L452.2,38.0 L454.2,37.7 L456.1,37.3 L458.0,36.8 L459.8,36.4 L461.7,36.1 L463.7,35.9 L465.7,35.8 L467.7,35.6 L469.8,35.5 L471.9,35.3 L474.0,35.1 L476.0,34.9 L478.0,34.6 L480.0,34.4 L482.0,34.1 L484.0,33.9 L486.0,33.6 L487.9,33.4 L489.8,33.2 L491.7,33.0 L493.7,32.8 L495.7,32.7 L497.7,32.5 L499.7,32.5 L501.7,32.4 L503.8,32.4 L505.8,32.5 L507.9,32.5 L510.0,32.6 L512.1,32.6 L514.2,32.7 L516.2,32.8 L518.2,32.9 L520.3,33.0 L522.3,33.2 L524.3,33.4 L526.3,33.6 L528.3,33.8 L530.2,34.0 L532.1,34.2 L534.0,34.5 L535.9,34.8 L537.8,35.1 L539.7,35.4 L541.7,35.7 L543.7,36.0 L545.7,36.3 L547.8,36.5 L549.8,36.7 L551.8,36.8 L553.9,36.9 L556.0,37.0 L558.2,37.1 L560.3,37.2 L562.4,37.3 L564.4,37.4 L566.5,37.5 L568.6,37.5 L570.7,37.6 L572.7,37.8 L574.8,37.9 L576.7,38.2 L578.6,38.5 L580.5,39.1 L582.4,39.7 L584.2,40.6 L585.9,41.5 L587.7,42.6 L589.4,43.8 L591.1,45.0 L592.7,46.3 L594.3,47.6 L595.8,49.0 L597.4,50.4 L598.8,51.9 L600.3,53.4 L601.6,54.9 L603.0,56.3 L604.3,57.8 L605.5,59.2 L606.7,60.7 L607.8,62.3 L608.9,63.9 L610.0,65.6 L611.0,67.4 L612.0,69.1 L612.9,70.9 L613.9,72.8 L614.8,74.7 L615.8,76.6 L616.8,78.6 L617.7,80.5 L618.7,82.4 L619.6,84.2 L620.5,86.1 L621.4,87.9 L622.3,89.7 L623.2,91.4 L624.0,93.2 L624.9,94.9 L625.7,96.6 L626.5,98.4 L627.2,100.2 L628.0,102.0 L628.7,103.7 L629.4,105.5 L630.0,107.3 L630.7,109.1 L631.4,111.0 L632.2,113.0 L632.9,115.0 L633.6,117.1 L634.4,119.1 L635.1,121.0 L635.7,122.9 L636.3,124.7 L637.0,126.6 L637.6,128.4 L638.3,130.3 L638.9,132.3 L639.6,134.3 L640.3,136.2 L641.0,138.2 L641.7,140.2 L642.4,142.2 L643.1,144.2 L643.8,146.2 L644.6,148.1 L645.3,150.0 L646.1,151.9 L647.0,153.8 L647.8,155.7 L648.7,157.6 L649.6,159.5 L650.5,161.4 L651.4,163.2 L652.3,165.1 L653.2,167.0 L654.1,168.8 L654.9,170.6 L655.7,172.3 L656.5,174.1 L657.3,175.9 L658.0,177.7 L658.7,179.7 L659.4,181.7 L660.0,183.8 L660.6,185.9 L661.1,187.9 L661.6,189.9 L662.1,191.8 L662.5,193.7 L663.0,195.6 L663.5,197.5 L664.1,199.3 L664.8,201.3 L665.5,203.3 L666.3,205.2 L667.2,207.2 L668.0,209.1 L668.9,210.9 L669.8,212.6 L670.7,214.4 L671.6,216.1 L672.6,217.9 L673.7,219.6 L674.7,221.2 L675.8,222.8 L677.0,224.4 L678.3,225.9 L679.7,227.4 L681.1,228.8 L682.5,230.3 L684.0,231.7 L685.4,233.2 L686.9,234.6 L688.4,236.1 L689.9,237.5 L691.5,238.7 L693.2,239.9 L695.0,241.0 L696.8,241.9 L698.7,242.8 L700.5,243.6 L702.3,244.3 L704.1,244.9 L706.0,245.2 L707.9,245.4 L710.0,245.5 L712.1,245.5 L714.3,245.5 L716.4,245.5 L718.6,245.5 L720.8,245.5 L723.1,245.4 L725.3,245.3 L727.4,245.2 L729.4,245.1 L731.1,245.1 L732.4,245.0" fill="none" stroke="#0b6a2a" stroke-width="3.7" stroke-linejoin="round" stroke-linecap="round"/>
<path d="M440.0,34.6 L441.4,34.5 L443.0,34.5 L444.7,34.4 L446.5,34.3 L448.6,34.2 L450.8,34.1 L453.1,34.1 L455.4,34.0 L457.6,33.9 L459.7,33.9 L461.7,33.8 L463.6,33.7 L465.5,33.7 L467.4,33.6 L469.4,33.6 L471.5,33.5 L473.6,33.5 L475.7,33.4 L477.8,33.4 L479.9,33.4 L482.1,33.4 L484.2,33.4 L486.3,33.4 L488.4,33.5 L490.4,33.5 L492.5,33.6 L494.5,33.7 L496.6,33.8 L498.7,33.9 L500.8,34.0 L503.0,34.2 L505.1,34.3 L507.2,34.4 L509.2,34.6 L511.2,34.7 L513.2,34.8 L515.1,34.9 L517.0,35.0 L519.0,35.1 L521.0,35.2 L523.1,35.3 L525.2,35.4 L527.3,35.5 L529.3,35.5 L531.2,35.6 L533.0,35.6 L534.9,35.6 L536.7,35.7 L538.6,35.7 L540.6,35.7 L542.6,35.7 L544.7,35.6 L546.8,35.6 L548.8,35.5 L550.9,35.5 L553.0,35.4 L555.0,35.4 L557.0,35.4 L559.1,35.4 L561.1,35.5 L563.2,35.5 L565.4,35.7 L567.5,35.8 L569.5,36.0 L571.5,36.2 L573.4,36.4 L575.4,36.7 L577.3,37.0 L579.3,37.5 L581.3,38.0 L583.2,38.6 L585.0,39.3 L586.8,40.1 L588.6,41.0 L590.3,42.0 L592.0,43.1 L593.7,44.3 L595.4,45.5 L597.0,46.7 L598.6,47.9 L600.2,49.2 L601.8,50.5 L603.4,51.8 L604.9,53.2 L606.4,54.5 L607.8,56.0 L609.1,57.4 L610.4,58.9 L611.7,60.4 L612.9,62.0 L614.1,63.7 L615.2,65.3 L616.3,66.9 L617.2,68.5 L618.2,70.0 L619.1,71.6 L620.1,73.2 L621.0,75.1 L622.0,77.0 L623.1,79.0 L624.0,81.0 L624.9,82.9 L625.7,84.7 L626.5,86.4 L627.2,88.1 L628.0,89.9 L628.7,91.7 L629.5,93.5 L630.3,95.4 L631.1,97.4 L631.9,99.4 L632.8,101.3 L633.6,103.4 L634.4,105.4 L635.2,107.4 L636.0,109.4 L636.8,111.3 L637.5,113.3 L638.2,115.2 L639.0,117.1 L639.7,119.1 L640.4,121.0 L641.1,122.9 L641.8,124.9 L642.4,126.9 L643.1,128.8 L643.7,130.8 L644.4,132.7 L645.0,134.6 L645.6,136.6 L646.3,138.5 L646.9,140.4 L647.6,142.2 L648.2,144.1 L648.9,145.9 L649.6,147.8 L650.3,149.7 L651.1,151.5 L651.9,153.5 L652.7,155.4 L653.6,157.3 L654.5,159.2 L655.4,161.1 L656.3,163.0 L657.2,164.8 L658.1,166.7 L659.0,168.5 L659.8,170.2 L660.6,172.0 L661.4,173.7 L662.1,175.5 L662.8,177.3 L663.5,179.2 L664.2,181.2 L664.8,183.2 L665.3,185.3 L665.8,187.4 L666.2,189.4 L666.7,191.4 L667.1,193.3 L667.5,195.1 L668.0,197.0 L668.6,198.8 L669.3,200.7 L670.1,202.5 L671.1,204.4 L672.0,206.2 L673.0,208.0 L674.1,209.7 L675.1,211.4 L676.2,213.1 L677.3,214.8 L678.4,216.5 L679.5,218.3 L680.6,220.1 L681.7,221.9 L682.8,223.6 L683.9,225.3 L684.9,226.9 L685.8,228.6 L686.9,230.3 L688.0,231.9 L689.2,233.4 L690.5,234.9 L692.0,236.3 L693.5,237.7 L695.1,239.0 L696.7,240.2 L698.4,241.3 L700.2,242.2 L702.0,243.0 L704.0,243.7 L705.9,244.2 L708.0,244.6 L710.0,244.9 L712.1,245.1 L714.3,245.3 L716.4,245.5 L718.6,245.7 L720.8,245.8 L723.1,245.8 L725.3,245.9 L727.4,245.9 L729.4,245.9 L731.1,245.8 L732.4,245.8" fill="none" stroke="#6a00ff" stroke-width="3.9" stroke-linejoin="round" stroke-linecap="round"/>
<g font-family="Liberation Sans" font-weight="bold" font-size="17.5" fill="#000" letter-spacing="1">
<text x="440.0" y="267" text-anchor="middle">20</text>
<text x="479.0" y="267" text-anchor="middle">30</text>
<text x="518.0" y="267" text-anchor="middle">40</text>
<text x="557.0" y="267" text-anchor="middle">50</text>
<text x="596.0" y="267" text-anchor="middle">60</text>
<text x="635.0" y="267" text-anchor="middle">70</text>
<text x="674.0" y="267" text-anchor="middle">80</text>
<text x="713.0" y="267" text-anchor="middle">90</text>
<text x="752.0" y="267" text-anchor="middle">100</text>
<text x="431.5" y="251.6" text-anchor="end">0.0</text>
<text x="431.5" y="208.8" text-anchor="end">0.2</text>
<text x="431.5" y="166.0" text-anchor="end">0.4</text>
<text x="431.5" y="123.1" text-anchor="end">0.6</text>
<text x="431.5" y="80.3" text-anchor="end">0.8</text>
<text x="431.5" y="37.5" text-anchor="end">1.0</text>
<text x="499.5" y="292.8" letter-spacing="1.25">Temperature (<tspan font-size="9.5" font-weight="normal" dy="-10" dx="0.3">o</tspan><tspan dy="10" dx="0.3">C)</tspan></text>
</g>
<g font-family="Liberation Sans" font-weight="bold" font-size="17.5" fill="#000">
<text transform="translate(391,139.2) rotate(-90)" text-anchor="middle">Normalized Abs at 295 nm</text>
<text x="451.5" y="14.6" font-size="16.5">(b)</text>
</g>
<rect x="476.6" y="130.7" width="128.0" height="91.5" fill="#fff" stroke="#6e7d7d" stroke-width="1"/>
<line x1="476.6" y1="130.7" x2="476.6" y2="222.2" stroke="#000" stroke-width="1.4"/>
<line x1="476" y1="222.2" x2="605" y2="222.2" stroke="#000" stroke-width="1.5"/>
<g font-family="Liberation Sans" font-weight="bold" font-size="8" fill="#000">
<line x1="476.6" y1="217.7" x2="479.3" y2="217.7" stroke="#000" stroke-width="1.1"/>
<text x="474.5" y="220.5" text-anchor="end">0.0</text>
<line x1="476.6" y1="200.4" x2="479.3" y2="200.4" stroke="#000" stroke-width="1.1"/>
<text x="474.5" y="203.2" text-anchor="end">0.2</text>
<line x1="476.6" y1="183.1" x2="479.3" y2="183.1" stroke="#000" stroke-width="1.1"/>
<text x="474.5" y="185.9" text-anchor="end">0.4</text>
<line x1="476.6" y1="165.7" x2="479.3" y2="165.7" stroke="#000" stroke-width="1.1"/>
<text x="474.5" y="168.5" text-anchor="end">0.6</text>
<line x1="476.6" y1="148.4" x2="479.3" y2="148.4" stroke="#000" stroke-width="1.1"/>
<text x="474.5" y="151.2" text-anchor="end">0.8</text>
<line x1="476.6" y1="131.1" x2="479.3" y2="131.1" stroke="#000" stroke-width="1.1"/>
<text x="474.5" y="133.9" text-anchor="end">1.0</text>
<line x1="476.6" y1="222" x2="476.6" y2="219.8" stroke="#000" stroke-width="1.1"/>
<text x="476.6" y="230" text-anchor="middle">20</text>
<line x1="492.6" y1="222" x2="492.6" y2="219.8" stroke="#000" stroke-width="1.1"/>
<text x="492.6" y="230" text-anchor="middle">30</text>
<line x1="508.6" y1="222" x2="508.6" y2="219.8" stroke="#000" stroke-width="1.1"/>
<text x="508.6" y="230" text-anchor="middle">40</text>
<line x1="524.5" y1="222" x2="524.5" y2="219.8" stroke="#000" stroke-width="1.1"/>
<text x="524.5" y="230" text-anchor="middle">50</text>
<line x1="540.5" y1="222" x2="540.5" y2="219.8" stroke="#000" stroke-width="1.1"/>
<text x="540.5" y="230" text-anchor="middle">60</text>
<line x1="556.5" y1="222" x2="556.5" y2="219.8" stroke="#000" stroke-width="1.1"/>
<text x="556.5" y="230" text-anchor="middle">70</text>
<line x1="572.5" y1="222" x2="572.5" y2="219.8" stroke="#000" stroke-width="1.1"/>
<text x="572.5" y="230" text-anchor="middle">80</text>
<line x1="588.4" y1="222" x2="588.4" y2="219.8" stroke="#000" stroke-width="1.1"/>
<text x="588.4" y="230" text-anchor="middle">90</text>
<line x1="604.4" y1="222" x2="604.4" y2="219.8" stroke="#000" stroke-width="1.1"/>
<text x="604.4" y="230" text-anchor="middle">100</text>
<text x="541.2" y="240.8" text-anchor="middle" font-size="7.3">Temperature (<tspan font-size="5" dy="-3.5">o</tspan><tspan dy="3.5">C)</tspan></text>
<text transform="translate(456,180.2) rotate(-90)" text-anchor="middle">dA/dT</text>
</g>
<path d="M477.4,146.2 C477.9,147.8 479.6,153.2 480.7,155.5 C481.8,157.8 482.7,158.6 484.1,159.7 C485.5,160.8 487.6,161.2 489.2,162.2 C490.8,163.2 491.7,165.7 493.4,165.6 C495.1,165.5 497.5,162.0 499.3,161.4 C501.1,160.8 502.4,160.7 504.3,162.2 C506.2,163.7 509.0,170.3 511.0,170.6 C513.0,170.9 514.6,165.7 516.1,163.9 C517.6,162.1 518.8,159.9 520.0,160.0 C521.2,160.1 522.3,163.5 523.4,164.7 C524.5,165.9 525.6,167.0 526.7,167.2 C527.8,167.3 528.7,165.4 530.1,165.6 C531.5,165.8 533.5,167.3 535.2,168.1 C536.9,168.9 539.0,169.4 540.2,170.6 C541.4,171.8 541.4,171.8 542.3,175.0 C543.2,178.2 544.4,185.0 545.7,190.0 C547.0,195.0 548.4,201.0 549.9,205.0 C551.4,209.0 553.5,211.9 555.0,214.0 C556.5,216.1 558.0,218.0 559.1,217.8 C560.2,217.6 560.7,215.1 561.5,213.0 C562.3,210.9 562.7,208.8 563.7,205.0 C564.7,201.2 566.2,195.0 567.5,190.0 C568.8,185.0 570.0,180.3 571.5,175.0 C573.0,169.7 574.8,163.9 576.8,158.0 C578.8,152.1 581.6,143.7 583.6,139.5 C585.6,135.3 587.2,133.7 588.6,132.7 C590.0,131.7 590.6,132.8 592.0,133.6 C593.4,134.4 596.2,137.1 597.0,137.8" fill="none" stroke="#000000" stroke-width="1.3" stroke-linejoin="round" stroke-linecap="round" />
<path d="M477.4,131.0 C477.9,131.2 479.6,130.6 480.7,131.9 C481.8,133.2 482.7,135.4 484.1,138.6 C485.5,141.8 487.5,149.1 489.2,151.3 C490.9,153.6 492.2,151.6 494.2,152.1 C496.1,152.6 498.6,154.6 500.9,154.6 C503.1,154.6 505.7,151.9 507.7,152.1 C509.7,152.2 510.7,156.2 512.7,155.5 C514.7,154.8 517.7,147.8 519.5,147.9 C521.3,148.0 522.2,154.6 523.4,156.3 C524.6,158.0 525.6,157.6 526.7,158.0 C527.8,158.4 529.0,158.1 530.1,158.8 C531.2,159.5 532.1,160.8 533.5,162.2 C534.9,163.6 537.1,165.6 538.5,167.2 C539.9,168.8 540.9,169.9 541.9,171.5 C542.9,173.1 543.5,173.9 544.5,177.0 C545.5,180.1 546.8,185.3 548.1,190.0 C549.4,194.7 550.6,200.5 552.3,205.0 C554.0,209.5 556.6,216.0 558.1,217.2 C559.6,218.4 559.9,214.0 561.0,212.0 C562.1,210.0 563.4,208.7 564.5,205.0 C565.6,201.3 566.5,195.0 567.4,190.0 C568.3,185.0 568.4,181.2 570.0,175.0 C571.6,168.8 574.8,158.5 576.8,152.9 C578.8,147.3 580.2,144.6 581.9,141.2 C583.6,137.8 585.5,134.2 586.9,132.7 C588.3,131.1 588.9,131.3 590.3,131.9 C591.7,132.5 594.5,135.4 595.4,136.1" fill="none" stroke="#ff0a0a" stroke-width="1.3" stroke-linejoin="round" stroke-linecap="round" />
<path d="M477.4,133.6 C477.9,133.3 479.3,131.1 480.7,131.9 C482.1,132.7 484.1,137.3 485.8,138.6 C487.5,139.9 489.1,138.9 490.8,139.5 C492.5,140.1 494.5,141.9 495.9,142.0 C497.3,142.1 497.9,139.3 499.3,140.3 C500.7,141.3 502.6,147.5 504.3,147.9 C506.0,148.3 507.7,143.0 509.4,142.8 C511.1,142.7 512.7,146.4 514.4,147.0 C516.1,147.6 518.0,146.9 519.5,146.2 C521.0,145.5 522.2,143.9 523.4,142.8 C524.6,141.7 525.6,139.9 526.7,139.5 C527.8,139.1 529.0,140.5 530.1,140.3 C531.2,140.1 532.4,137.4 533.5,138.1 C534.6,138.8 535.8,141.5 536.8,144.5 C537.8,147.5 538.5,152.1 539.4,156.3 C540.2,160.5 541.2,166.7 541.9,169.8 C542.6,172.9 542.3,172.8 543.5,175.0 C544.7,177.2 547.5,180.5 549.0,183.0 C550.5,185.5 551.2,186.3 552.3,190.0 C553.4,193.7 554.5,200.4 555.6,205.0 C556.7,209.6 558.0,216.5 559.1,217.8 C560.2,219.1 561.1,215.1 562.5,213.0 C563.9,210.9 566.0,208.8 567.6,205.0 C569.2,201.2 570.9,195.0 572.1,190.0 C573.3,185.0 573.4,181.2 574.9,175.0 C576.4,168.8 579.1,158.8 581.0,152.9 C582.9,147.0 584.6,142.7 586.1,139.5 C587.6,136.3 589.0,134.7 590.3,133.6 C591.6,132.5 592.6,132.0 593.7,132.7 C594.8,133.4 596.5,137.0 597.0,137.8" fill="none" stroke="#0b6a2a" stroke-width="1.3" stroke-linejoin="round" stroke-linecap="round" />
<path d="M477.4,137.8 C478.1,137.1 480.2,133.0 481.6,133.6 C483.0,134.2 484.3,138.4 485.8,141.2 C487.3,144.0 488.8,149.7 490.8,150.4 C492.8,151.1 495.4,145.7 497.6,145.4 C499.9,145.1 502.1,149.0 504.3,148.7 C506.5,148.4 509.3,143.5 511.0,143.7 C512.7,143.8 513.0,149.0 514.4,149.6 C515.8,150.2 517.7,147.0 519.5,147.0 C521.3,147.0 523.2,148.6 525.0,149.6 C526.8,150.6 528.4,152.1 530.1,152.9 C531.8,153.7 533.5,152.9 535.2,154.6 C536.9,156.3 538.4,159.6 540.2,163.0 C542.0,166.4 544.5,170.5 546.2,175.0 C548.0,179.5 549.4,185.0 550.7,190.0 C552.0,195.0 552.1,200.5 553.8,205.0 C555.5,209.5 559.4,216.0 560.9,217.2 C562.4,218.4 562.2,214.0 563.0,212.0 C563.8,210.0 564.7,208.7 565.8,205.0 C566.9,201.3 568.5,195.0 569.7,190.0 C570.9,185.0 571.7,181.2 573.2,175.0 C574.7,168.8 576.6,159.4 578.5,152.9 C580.4,146.4 582.9,139.6 584.4,136.1 C585.9,132.6 586.5,132.2 587.8,131.9 C589.1,131.6 590.6,133.6 592.0,134.4 C593.4,135.2 595.5,136.5 596.2,136.9" fill="none" stroke="#0a14ff" stroke-width="1.3" stroke-linejoin="round" stroke-linecap="round" />
<path d="M477.4,134.4 C478.1,134.1 480.2,131.3 481.6,132.7 C483.0,134.1 484.4,139.4 485.8,142.8 C487.2,146.2 488.3,151.8 490.0,152.9 C491.7,154.0 493.9,149.2 495.9,149.6 C497.9,150.0 499.8,155.4 501.8,155.5 C503.8,155.6 505.9,151.7 507.7,150.4 C509.5,149.1 511.0,148.6 512.7,147.9 C514.4,147.2 516.6,146.3 517.8,146.2 C519.0,146.0 518.8,147.4 520.0,147.0 C521.2,146.6 523.5,143.0 525.0,143.7 C526.5,144.4 527.9,150.5 529.3,151.3 C530.7,152.1 531.7,147.9 533.5,148.7 C535.3,149.5 538.2,156.0 540.2,156.3 C542.2,156.6 544.0,150.1 545.3,150.4 C546.6,150.7 546.8,153.9 547.8,158.0 C548.8,162.1 550.1,169.7 551.4,175.0 C552.7,180.3 554.0,186.0 555.4,190.0 C556.8,194.0 558.9,196.5 560.0,199.0 C561.1,201.5 560.7,201.9 561.8,205.0 C562.9,208.1 565.4,216.6 566.5,217.8 C567.6,219.0 567.8,214.1 568.3,212.0 C568.8,209.9 569.1,208.7 569.7,205.0 C570.3,201.3 571.1,194.5 572.1,190.0 C573.1,185.5 574.4,181.7 575.5,178.0 C576.6,174.3 577.6,173.5 579.0,168.0 C580.4,162.5 582.5,150.8 584.0,145.0 C585.5,139.2 586.7,134.8 588.0,133.0 C589.3,131.2 590.8,133.6 592.0,134.0 C593.2,134.4 594.9,135.2 595.5,135.5" fill="none" stroke="#6a00ff" stroke-width="1.3" stroke-linejoin="round" stroke-linecap="round" />
</svg>
</body></html>
